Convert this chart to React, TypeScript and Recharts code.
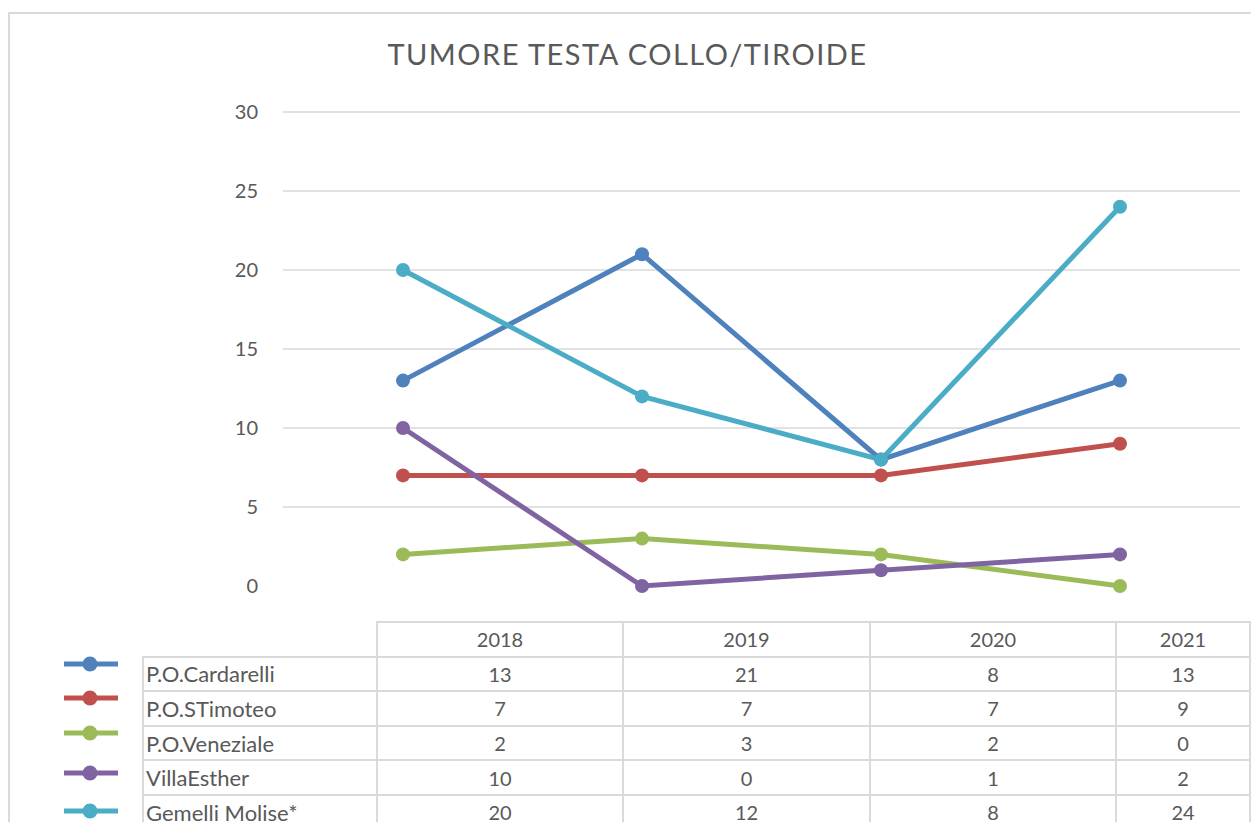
import React from "react";
import { LineChart, Line, XAxis, YAxis, CartesianGrid } from "recharts";

// categories + series
const years = ["2018", "2019", "2020", "2021"];
const cardarelli = [13, 21, 8, 13];
const sTimoteo = [7, 7, 7, 9];
const veneziale = [2, 3, 2, 0];
const villaEsther = [10, 0, 1, 2];
const gemelli = [20, 12, 8, 24];
const yTicks = [0, 5, 10, 15, 20, 25, 30];
const gridTicks = [5, 10, 15, 20, 25, 30];

const series = [
  { key: "cardarelli", name: "P.O.Cardarelli", values: cardarelli, color: "#4F81BD" },
  { key: "sTimoteo", name: "P.O.STimoteo", values: sTimoteo, color: "#C0504D" },
  { key: "veneziale", name: "P.O.Veneziale", values: veneziale, color: "#9BBB59" },
  { key: "villaEsther", name: "VillaEsther", values: villaEsther, color: "#8064A2" },
  { key: "gemelli", name: "Gemelli Molise*", values: gemelli, color: "#4BACC6" },
];

// legend key vertical offsets (Excel draws them slightly off the row centre)
const keyOffsets = [-9, -10, -9, -4, 0];

const data = years.map((year, i) => {
  const row: Record<string, string | number> = { year };
  series.forEach((s) => (row[s.key] = s.values[i]));
  return row;
});

const FONT = "Lato, 'Open Sans', sans-serif";
const TEXT = "#595959";
const BORDER = "2px solid #dadada";
const colWidths = [234, 246, 247, 246, 134];
const ROW_H = 34.6;

export default function App() {
  return (
    <div style={{ position: "relative", width: 1251, height: 814, overflow: "hidden", fontFamily: FONT, color: TEXT }}>
      <style>{"body{overflow:hidden}"}</style>
      <div style={{ position: "absolute", left: 0, top: 4, width: 1300, height: 1000, border: BORDER, boxSizing: "border-box" }} />
      <div
        style={{
          position: "absolute",
          left: 0,
          width: 1239,
          top: 31,
          textAlign: "center",
          fontSize: 29,
          lineHeight: "29px",
          letterSpacing: 1.5,
        }}
      >
        TUMORE TESTA COLLO/TIROIDE
      </div>

      <div style={{ position: "absolute", left: 0, top: 0 }}>
        <LineChart width={1251} height={600} data={data} margin={{ top: 104, right: 19, left: 215, bottom: 22 }}>
          <CartesianGrid vertical={false} stroke="#d9d9d9" strokeWidth={1.5} horizontalValues={gridTicks} />
          <XAxis dataKey="year" hide padding={{ left: 120, right: 120 }} />
          <YAxis
            domain={[0, 30]}
            ticks={yTicks}
            interval={0}
            width={60}
            axisLine={false}
            tickLine={false}
            tickSize={0}
            tickMargin={25}
            tick={{ fill: TEXT, fontSize: 20, fontFamily: FONT }}
          />
          {series.map((s) => (
            <Line
              key={s.key}
              dataKey={s.key}
              name={s.name}
              type="linear"
              stroke={s.color}
              strokeWidth={5}
              dot={{ r: 7, fill: s.color, stroke: "none" }}
              activeDot={false}
              isAnimationActive={false}
            />
          ))}
        </LineChart>
      </div>

      <table
        style={{
          position: "absolute",
          left: 134,
          top: 613,
          borderCollapse: "collapse",
          tableLayout: "fixed",
          width: colWidths.reduce((a, b) => a + b, 0),
          fontSize: 20,
        }}
      >
        <colgroup>
          {colWidths.map((w, i) => (
            <col key={i} style={{ width: w }} />
          ))}
        </colgroup>
        <tbody>
          <tr style={{ height: ROW_H }}>
            <td style={{ border: "none" }} />
            {years.map((y) => (
              <td key={y} style={{ border: BORDER, textAlign: "center", padding: 0 }}>
                {y}
              </td>
            ))}
          </tr>
          {series.map((s) => (
            <tr key={s.key} style={{ height: ROW_H }}>
              <td style={{ border: BORDER, paddingLeft: 2, whiteSpace: "nowrap", fontSize: 22 }}>{s.name}</td>
              {s.values.map((v, i) => (
                <td key={i} style={{ border: BORDER, textAlign: "center", padding: 0 }}>
                  {v}
                </td>
              ))}
            </tr>
          ))}
        </tbody>
      </table>

      {series.map((s, i) => (
        <svg
          key={s.key}
          width={60}
          height={20}
          style={{ position: "absolute", left: 54, top: 613 + ROW_H * (i + 1) + ROW_H / 2 + keyOffsets[i] - 10 }}
        >
          <line x1={2} x2={56} y1={10} y2={10} stroke={s.color} strokeWidth={5} />
          <circle cx={28} cy={10} r={7.5} fill={s.color} />
        </svg>
      ))}
    </div>
  );
}
